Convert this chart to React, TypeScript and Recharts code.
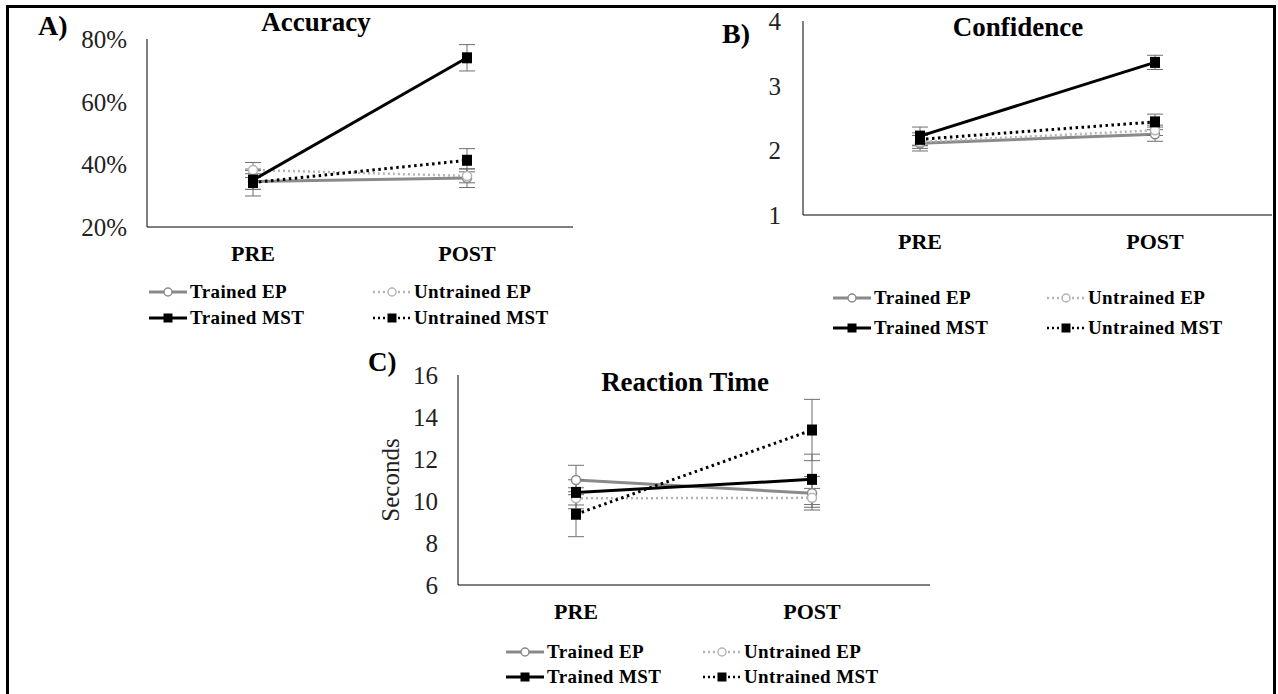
import React from "react";
import { LineChart, Line, XAxis, YAxis, ErrorBar } from "recharts";

const periods = ["PRE", "POST"];

// A) Accuracy (%)
const accTrainedEP = [34.5, 35.6];
const accTrainedEPErr = [2.5, 3.0];
const accUntrainedEP = [38.2, 36.3];
const accUntrainedEPErr = [2.4, 2.2];
const accTrainedMST = [35.0, 74.0];
const accTrainedMSTErr = [3.0, 4.2];
const accUntrainedMST = [34.2, 41.3];
const accUntrainedMSTErr = [4.3, 3.7];
const accTicks = [20, 40, 60, 80];

// B) Confidence
const confTrainedEP = [2.11, 2.25];
const confTrainedEPErr = [0.12, 0.11];
const confUntrainedEP = [2.13, 2.31];
const confUntrainedEPErr = [0.1, 0.08];
const confTrainedMST = [2.22, 3.36];
const confTrainedMSTErr = [0.14, 0.11];
const confUntrainedMST = [2.17, 2.44];
const confUntrainedMSTErr = [0.1, 0.12];
const confTicks = [1, 2, 3, 4];

// C) Reaction time (seconds)
const rtTrainedEP = [11.0, 10.37];
const rtTrainedEPErr = [0.7, 0.8];
const rtUntrainedEP = [10.13, 10.15];
const rtUntrainedEPErr = [0.5, 0.45];
const rtTrainedMST = [10.41, 11.03];
const rtTrainedMSTErr = [0.6, 1.2];
const rtUntrainedMST = [9.37, 13.38];
const rtUntrainedMSTErr = [1.07, 1.46];
const rtTicks = [6, 8, 10, 12, 14, 16];

const legendLabels = ["Trained EP", "Untrained EP", "Trained MST", "Untrained MST"];

const SERIF = '"Liberation Serif", "Times New Roman", serif';
const GRAY = "#8a8a8a";
const LIGHT = "#b4b4b4";
const ERR = "#6f6f6f";

function buildRows(v: number[][]) {
  return periods.map((p, i) => ({
    period: p,
    tEP: v[0][i],
    tEPe: v[1][i],
    uEP: v[2][i],
    uEPe: v[3][i],
    tMST: v[4][i],
    tMSTe: v[5][i],
    uMST: v[6][i],
    uMSTe: v[7][i],
  }));
}

const accRows = buildRows([
  accTrainedEP, accTrainedEPErr, accUntrainedEP, accUntrainedEPErr,
  accTrainedMST, accTrainedMSTErr, accUntrainedMST, accUntrainedMSTErr,
]);
const confRows = buildRows([
  confTrainedEP, confTrainedEPErr, confUntrainedEP, confUntrainedEPErr,
  confTrainedMST, confTrainedMSTErr, confUntrainedMST, confUntrainedMSTErr,
]);
const rtRows = buildRows([
  rtTrainedEP, rtTrainedEPErr, rtUntrainedEP, rtUntrainedEPErr,
  rtTrainedMST, rtTrainedMSTErr, rtUntrainedMST, rtUntrainedMSTErr,
]);

const CircleDot = (p: any) =>
  p.cx == null ? null : (
    <circle cx={p.cx} cy={p.cy} r={4.5} fill="#fff" stroke={p.color} strokeWidth={1.5} strokeDasharray="none" />
  );

const SquareDot = (p: any) =>
  p.cx == null ? null : (
    <rect x={p.cx - 5} y={p.cy - 5.5} width={10} height={11} fill="#000" stroke="none" />
  );

const tickStyle = { fontSize: 25, fontFamily: SERIF, fill: "#222" };
const catTickStyle = { fontSize: 22, fontFamily: SERIF, fontWeight: "bold" as const, fill: "#000" };

function Series() {
  return [
    <Line key="tEP" dataKey="tEP" stroke={GRAY} strokeWidth={3} dot={<CircleDot color={GRAY} />} isAnimationActive={false}>
      <ErrorBar dataKey="tEPe" width={8} stroke={ERR} strokeWidth={1} />
    </Line>,
    <Line key="uEP" dataKey="uEP" stroke={LIGHT} strokeWidth={2.5} strokeDasharray="2 3" dot={<CircleDot color={LIGHT} />} isAnimationActive={false}>
      <ErrorBar dataKey="uEPe" width={8} stroke={ERR} strokeWidth={1} />
    </Line>,
    <Line key="uMST" dataKey="uMST" stroke="#000" strokeWidth={3} strokeDasharray="2.5 3.5" dot={<SquareDot />} isAnimationActive={false}>
      <ErrorBar dataKey="uMSTe" width={8} stroke={ERR} strokeWidth={1} />
    </Line>,
    <Line key="tMST" dataKey="tMST" stroke="#000" strokeWidth={3} dot={<SquareDot />} isAnimationActive={false}>
      <ErrorBar dataKey="tMSTe" width={8} stroke={ERR} strokeWidth={1} />
    </Line>,
  ];
}

function LegendIcon({ idx }: { idx: number }) {
  const color = idx === 0 ? GRAY : idx === 1 ? LIGHT : "#000";
  const dashed = idx === 1 || idx === 3;
  return (
    <svg width={38} height={14} style={{ display: "block" }}>
      <line x1={0} y1={7} x2={38} y2={7} stroke={color} strokeWidth={dashed ? 2.5 : 3} strokeDasharray={dashed ? "2 3" : undefined} />
      {idx < 2 ? (
        <circle cx={19} cy={7} r={4} fill="#fff" stroke={color} strokeWidth={1.5} />
      ) : (
        <rect x={14.5} y={2.5} width={9} height={9} fill="#000" />
      )}
    </svg>
  );
}

function ChartLegend({ rows, cols }: { rows: number[]; cols: number[] }) {
  return (
    <>
      {legendLabels.map((label, i) => (
        <div
          key={label}
          style={{
            position: "absolute",
            left: cols[i % 2],
            top: rows[Math.floor(i / 2)] - 12,
            height: 24,
            display: "flex",
            alignItems: "center",
            gap: 3,
            fontFamily: SERIF,
            fontWeight: "bold",
            fontSize: 19,
            letterSpacing: 0.4,
            whiteSpace: "nowrap",
          }}
        >
          <LegendIcon idx={i} />
          <span>{label}</span>
        </div>
      ))}
    </>
  );
}

function Caption({ text, x, y, size = 27, center = true }: { text: string; x: number; y: number; size?: number; center?: boolean }) {
  return (
    <div
      style={{
        position: "absolute",
        left: center ? x - 150 : x,
        width: center ? 300 : undefined,
        top: y - 18,
        height: 36,
        lineHeight: "36px",
        textAlign: center ? "center" : "left",
        fontFamily: SERIF,
        fontWeight: "bold",
        fontSize: size,
        whiteSpace: "nowrap",
      }}
    >
      {text}
    </div>
  );
}

export default function App() {
  return (
    <div style={{ position: "absolute", left: 0, top: 0, width: 1278, height: 694, background: "#fff", overflow: "hidden" }}>
      <div
        style={{
          position: "absolute",
          left: 6,
          top: 5,
          width: 1270,
          height: 740,
          border: "3px solid #000",
          boxSizing: "border-box",
        }}
      />

      {/* A) Accuracy */}
      <div style={{ position: "absolute", left: 0, top: 0 }}>
        <LineChart width={600} height={282} data={accRows} margin={{ top: 39, right: 27, bottom: 20, left: 0 }}>
          <XAxis dataKey="period" padding={{ left: 106, right: 106 }} tickLine={false} tickSize={0} tickMargin={18} stroke="#000" tick={catTickStyle} height={35} />
          <YAxis domain={[20, 80]} ticks={accTicks} tickFormatter={(v: number) => `${v}%`} width={147} tickLine={false} tickSize={0} tickMargin={20} stroke="#000" tick={tickStyle} />
          {Series()}
        </LineChart>
      </div>
      <Caption text="Accuracy" x={316} y={22} />
      <Caption text="A)" x={38} y={26} size={28} center={false} />
      <ChartLegend rows={[292, 318]} cols={[149, 373]} />

      {/* B) Confidence */}
      <div style={{ position: "absolute", left: 660, top: 0 }}>
        <LineChart width={620} height={270} data={confRows} margin={{ top: 21, right: 8, bottom: 20, left: 0 }}>
          <XAxis dataKey="period" padding={{ left: 117, right: 117 }} tickLine={false} tickSize={0} tickMargin={18} stroke="#000" tick={catTickStyle} height={35} />
          <YAxis domain={[1, 4]} ticks={confTicks} width={143} tickLine={false} tickSize={0} tickMargin={22} stroke="#000" tick={tickStyle} />
          {Series()}
        </LineChart>
      </div>
      <Caption text="Confidence" x={1018} y={27} />
      <Caption text="B)" x={722} y={34} size={28} center={false} />
      <ChartLegend rows={[298, 328]} cols={[833, 1047]} />

      {/* C) Reaction Time */}
      <div style={{ position: "absolute", left: 300, top: 330 }}>
        <LineChart width={640} height={310} data={rtRows} margin={{ top: 45, right: 10, bottom: 20, left: 0 }}>
          <XAxis dataKey="period" padding={{ left: 118, right: 118 }} tickLine={false} tickSize={0} tickMargin={18} stroke="#000" tick={catTickStyle} height={35} />
          <YAxis
            domain={[6, 16]}
            ticks={rtTicks}
            width={158}
            tickLine={false}
            tickSize={0}
            tickMargin={20}
            stroke="#000"
            tick={tickStyle}
            label={{ value: "Seconds", angle: -90, position: "center", dx: 11, style: { fontSize: 25, fontFamily: SERIF, fill: "#222" } }}
          />
          {Series()}
        </LineChart>
      </div>
      <Caption text="Reaction Time" x={685} y={382} />
      <Caption text="C)" x={368} y={362} size={27} center={false} />
      <ChartLegend rows={[652, 677]} cols={[506, 703]} />
    </div>
  );
}
